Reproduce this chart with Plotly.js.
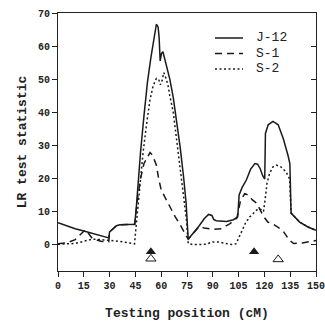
<!DOCTYPE html>
<html><head><meta charset="utf-8">
<script src="https://cdn.plot.ly/plotly-3.0.1.min.js"></script>
<style>html,body{margin:0;padding:0;background:#fff}#c{width:325px;height:324px}</style>
</head><body><div id="c"></div>
<script>
const j12X = [0,5,10,15,20,25,29.5,30,32,34,36,40,44.6,45.5,46.5,48,50,52,54,56,57.2,58.2,58.8,59.4,60.2,61,63,65,67,69,71,73,74.5,75.7,78,82,85,87.5,89.5,90.5,92,98,102,104.5,105.3,107,109.5,112,114.5,116,117.5,119,120.2,120.6,122.2,125,128,131,133.7,134.8,135.5,140.5,145.3,150];
const j12Y = [6.6,5.6,4.8,4.1,3.4,2.7,2.0,3.8,4.8,5.7,6.0,6.1,6.1,11,18,28,39,49,56.5,63.5,66.6,65.8,62.5,55.5,57.8,58.3,54.5,50,44.5,37.5,29.5,20.5,12.5,1.6,3,5.6,7.8,9.1,8.8,7.6,7.2,7.0,7.5,8.4,15,17.2,19.5,22.8,24.5,24.3,23,20.8,19.8,33.6,36.2,37.2,36.2,32,27,24.5,9.5,6.8,5.3,4.3];
const s1X = [0,5,10,13,16,18,20,25,29.5,30,32,34,36,40,44.6,46,48,50,53.5,55,57.2,58.5,60,62,65,68,71,73,75.7,78,82,85,90,95,100,104,106,108.5,110.5,113,115.5,117.5,119.5,122,125,128,131,134.5,137,142,146,150];
const s1Y = [0.2,0.5,1.5,3.0,4.5,3.2,1.8,1.0,0.8,3.8,4.8,5.7,6.0,6.1,6.1,13,20,24.5,27.8,27,24,20,16.5,14.5,11.5,8.5,6,4,1.6,3,5.4,5,4.6,4.8,6.3,8,13,15.4,15,13.5,12.5,10.5,8.5,6.8,6.2,5.2,4,1.3,0.3,0.5,0.8,1.2];
const s2X = [0,5,10,15,20,25,30,35,40,44.5,45.5,47.6,49.5,51.4,53.4,55.3,57.2,58.5,59.5,60.5,61.5,63,64,65,67,68.9,70.8,72.8,74.7,75.7,78,82,86,90,93,97,101,103.5,105,107,109,111.4,114,116.3,118,119.5,120.5,121.5,123,125,127,129.5,132.5,134.7,135.5,140.5,145.3,150];
const s2Y = [0.1,0.1,0.3,1.0,1.6,1.5,1.3,1.0,0.6,0.2,6,17.5,28,36,43.5,48,50.2,50,48.3,49.5,52,50,48,45,40,32,24.5,15.5,7.4,0.3,0,0,0.1,0.8,0.8,0.4,0,0.2,2,4.5,6.5,8.3,9.8,10.8,10.6,10,14,18.5,21.5,23.5,24,23.5,22,19.8,9.5,6.8,5.3,4.3];
const filledMarkX = [54,114];
const filledMarkY = [-2.2,-2.2];
const openMarkX = [54,128];
const openMarkY = [-4.3,-4.5];
const xTicks = [0,15,30,45,60,75,90,105,120,135,150];
const yTicks = [0,10,20,30,40,50,60,70];
const names = ['J-12','S-1','S-2'];

const col = '#1a1a1a';
const dashes = ['solid','7px,5px','2px,2.5px'];
const traces = [
  {x:j12X,y:j12Y,name:names[0],mode:'lines',line:{color:col,width:1.5,dash:dashes[0]}},
  {x:s1X,y:s1Y,name:names[1],mode:'lines',line:{color:col,width:1.5,dash:dashes[1]}},
  {x:s2X,y:s2Y,name:names[2],mode:'lines',line:{color:col,width:1.5,dash:dashes[2]}},
  {x:filledMarkX,y:filledMarkY,mode:'markers',marker:{symbol:'triangle-up',size:9,color:col}},
  {x:openMarkX,y:openMarkY,mode:'markers',marker:{symbol:'triangle-up-open',size:9,color:col,line:{width:1}}},
  {x:[0],y:[0],yaxis:'y2',mode:'markers',marker:{opacity:0},hoverinfo:'skip'}
];
const mono = 'Liberation Mono, Courier New, monospace';
const tf = {family:mono,size:10,color:'#222',weight:'bold'};
// manual legend (paper coords) so item spacing matches the original
const plotW = 258, plotH = 258;
const legX0 = (215-58)/plotW, legX1 = (243-58)/plotW, legTX = (254-58)/plotW;
const legYpx = [38,53.5,69];
const shapes = [], annotations = [];
names.forEach((n,i)=>{
  const yy = 1-(legYpx[i]-13)/plotH;
  shapes.push({type:'line',xref:'paper',yref:'paper',x0:legX0,x1:legX1,y0:yy,y1:yy,line:{color:col,width:1.5,dash:dashes[i]}});
  annotations.push({xref:'paper',yref:'paper',x:legTX,y:yy,xanchor:'left',yanchor:'middle',text:n,showarrow:false,
    font:{family:mono,size:13,color:'#222'}});
});
const layout = {
  width:325,height:324,
  margin:{l:58,r:9,t:13,b:53},
  paper_bgcolor:'#fff',plot_bgcolor:'#fff',
  showlegend:false,
  shapes:shapes,annotations:annotations,
  xaxis:{range:[0,150],tickvals:xTicks,ticktext:xTicks.map(String),ticks:'outside',ticklen:5,tickwidth:1,tickcolor:'#222',
    ticklabeloverflow:'allow',
    showline:true,linecolor:'#222',linewidth:1,mirror:true,showgrid:false,zeroline:false,tickfont:tf,
    title:{text:'Testing position (cM)',font:{family:mono,size:13,color:'#222',weight:'bold'},standoff:16}},
  yaxis:{range:[-8,70],tickvals:yTicks,ticks:'outside',ticklen:5,tickwidth:1,tickcolor:'#222',
    showline:true,linecolor:'#222',linewidth:1,mirror:true,showgrid:false,zeroline:false,tickfont:tf,
    title:{text:'LR test statistic',font:{family:mono,size:13,color:'#222',weight:'bold'},standoff:8}},
  yaxis2:{range:[-8,70],overlaying:'y',side:'right',tickvals:yTicks,ticks:'inside',ticklen:5,tickcolor:'#222',
    showticklabels:false,showgrid:false,zeroline:false,showline:false}
};
Plotly.newPlot('c',traces,layout,{staticPlot:true,displayModeBar:false});
</script></body></html>
